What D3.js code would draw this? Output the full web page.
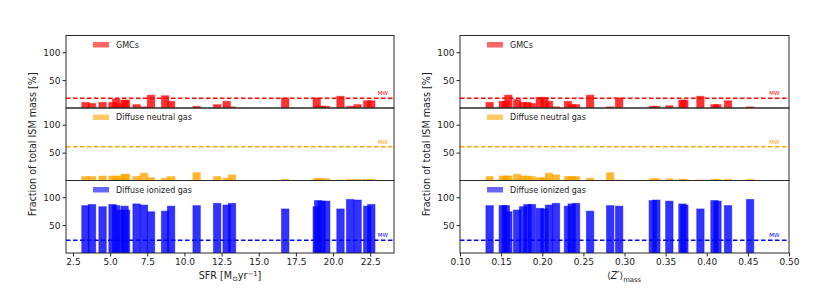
<!DOCTYPE html>
<html><head><meta charset="utf-8">
<script src="https://cdn.jsdelivr.net/npm/d3@7/dist/d3.min.js"></script>
<style>body{margin:0;background:#fff}svg{font-family:"DejaVu Sans",sans-serif}</style>
</head><body><svg id="c" width="830" height="297"></svg>
<script>
// ---- data: left column (SFR) ----
const sfr      = [3.34,3.78,4.49,5.16,5.40,5.67,5.97,6.07,6.78,7.28,7.75,8.70,9.10,10.82,12.20,12.84,13.20,16.78,18.90,19.00,19.23,19.54,20.50,21.15,21.65,22.30,22.57];
const gmcL     = [10,8,10,10,16,8,14,14,6,2,23,22,12,3,6,12,2,18,18,3,3,3,21,3,6,13,13];
const neuL     = [7,7,8,8,8,7,11,11,7,13,5,4,7,14,7,4,10,2,3,3,3,3,1,2,2,2,2];
const ionL     = [85,87,83,87,85,77,84,77,88,86,74,75,84,85,89,86,89,79,83,94,93,93,79,96,95,84,87];
// ---- data: right column (<Z'>_mass) ----
const zmass    = [0.136,0.152,0.1557,0.1588,0.1695,0.1768,0.182,0.1874,0.197,0.2027,0.2082,0.2167,0.2313,0.2358,0.2411,0.2582,0.2826,0.2935,0.3344,0.3387,0.3545,0.3704,0.3728,0.3923,0.4094,0.413,0.4259,0.4527];
const gmcR     = [10,12,12,23,15,10,10,8,19,19,12,2,12,6,6,23,2,18,3,3,4,14,14,21,6,6,13,2];
const neuR     = [7,8,8,8,11,8,8,7,5,5,13,10,7,7,7,4,14,1,3,3,3,2,2,1,2,2,2,2];
const ionR     = [85,85,85,74,77,83,87,87,80,79,86,89,84,88,89,75,85,84,94,95,93,88,86,79,94,93,85,96];
// Milky Way reference fractions
const mwVals   = [17.5, 60.5, 22.7];
const phases   = ["GMCs","Diffuse neutral gas","Diffuse ionized gas"];
const colors   = ["#ff0000","#ffa500","#0000ff"];
const yTicks   = [50,100];
const sfrTicks = [2.5,5.0,7.5,10.0,12.5,15.0,17.5,20.0,22.5];
const zTicks   = [0.10,0.15,0.20,0.25,0.30,0.35,0.40,0.45,0.50];

const svg = d3.select("#c");
const rows = [35.5,108,180.5], rowH = 72.5;
const cols = [
  {x0:66,x1:394,dom:[2.03,24.1],xs:sfr,vals:[gmcL,neuL,ionL],bw:0.5,ticks:sfrTicks,fmt:d3.format(".1f"),mwx:23.0},
  {x0:460,x1:789,dom:[0.10,0.50],xs:zmass,vals:[gmcR,neuR,ionR],bw:0.009,ticks:zTicks,fmt:d3.format(".2f"),mwx:0.476}
];

cols.forEach((c,ci)=>{
  const x = d3.scaleLinear().domain(c.dom).range([c.x0,c.x1]);
  rows.forEach((top,ri)=>{
    const y = d3.scaleLinear().domain([0,130]).range([top+rowH,top]);
    const g = svg.append("g");
    const clipId = "cl"+ci+ri;
    svg.append("clipPath").attr("id",clipId).append("rect")
      .attr("x",c.x0).attr("y",top).attr("width",c.x1-c.x0).attr("height",rowH);
    const gb = g.append("g").attr("clip-path","url(#"+clipId+")");
    gb.selectAll("rect.b").data(c.xs.map((v,i)=>({x:v,v:c.vals[ri][i]}))).join("rect")
      .attr("x",d=>x(d.x-c.bw/2)).attr("width",d=>x(d.x+c.bw/2)-x(d.x-c.bw/2))
      .attr("y",d=>y(d.v)).attr("height",d=>y(0)-y(d.v))
      .attr("fill",colors[ri]).attr("fill-opacity",0.8)
      .attr("stroke",colors[ri]).attr("stroke-opacity",0.45).attr("stroke-width",1);
    gb.append("line").attr("x1",c.x0).attr("x2",c.x1).attr("y1",y(mwVals[ri])).attr("y2",y(mwVals[ri]))
      .attr("stroke",colors[ri]).attr("stroke-width",1.5).attr("stroke-dasharray","4.5,2.5");
    g.append("text").attr("x",x(c.mwx)).attr("y",y(mwVals[ri])-3).attr("font-size",5.5)
      .attr("fill",colors[ri]).text("MW");
    g.append("rect").attr("x",c.x0+27).attr("y",top+6.5).attr("width",16).attr("height",5.5)
      .attr("fill",colors[ri]).attr("fill-opacity",0.6);
    g.append("text").attr("x",c.x0+50).attr("y",top+12).attr("font-size",8).attr("fill","#222").text(phases[ri]);
    const ya = g.append("g").attr("transform",`translate(${c.x0},0)`)
      .call(d3.axisLeft(y).tickValues(yTicks).tickSize(3.5).tickPadding(2));
    ya.select(".domain").remove();
    ya.selectAll("text").attr("font-size",9).attr("font-family","DejaVu Sans").attr("fill","#222");
    ya.selectAll("line").attr("stroke","#222");
    g.append("rect").attr("x",c.x0).attr("y",top).attr("width",c.x1-c.x0).attr("height",rowH)
      .attr("fill","none").attr("stroke","#2a2a2a").attr("stroke-width",1);
  });
  const xa = svg.append("g").attr("transform",`translate(0,${rows[2]+rowH})`)
    .call(d3.axisBottom(x).tickValues(c.ticks).tickFormat(c.fmt).tickSize(3.5).tickPadding(2));
  xa.select(".domain").remove();
  xa.selectAll("text").attr("font-size",9).attr("font-family","DejaVu Sans").attr("fill","#222");
  xa.selectAll("line").attr("stroke","#222");
  svg.append("text").attr("transform",`translate(${c.x0-30},${rows[1]+rowH/2}) rotate(-90)`)
    .attr("text-anchor","middle").attr("font-size",9.6).attr("fill","#222").text("Fraction of total ISM mass [%]");
});

const t1 = svg.append("text").attr("x",230).attr("y",279).attr("text-anchor","middle").attr("font-size",9.6).attr("fill","#222");
t1.append("tspan").text("SFR [M");
t1.append("tspan").attr("font-size",6.8).attr("dy",2).text("⊙");
t1.append("tspan").attr("dy",-2).text("yr");
t1.append("tspan").attr("font-size",6.8).attr("dy",-3.5).text("−1");
t1.append("tspan").attr("dy",3.5).text("]");
const t2 = svg.append("text").attr("x",624).attr("y",279).attr("text-anchor","middle").attr("font-size",9.6).attr("fill","#222");
t2.append("tspan").text("⟨");
t2.append("tspan").attr("font-style","italic").text("Z′");
t2.append("tspan").text("⟩");
t2.append("tspan").attr("font-size",6.8).attr("dy",2.5).text("mass");
</script></body></html>
